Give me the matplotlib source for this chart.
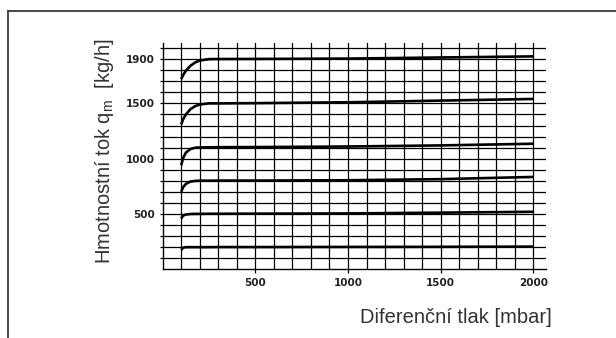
import matplotlib
matplotlib.use('Agg')
import matplotlib.pyplot as plt
from matplotlib.lines import Line2D

# ---- data ----
pressure = [100, 110, 125, 150, 175, 200, 250, 300, 500, 1000, 1500, 2000]
flow_a = [1720, 1755, 1795, 1840, 1870, 1888, 1900, 1901, 1902, 1905, 1915, 1925]
flow_b = [1310, 1355, 1400, 1448, 1475, 1490, 1500, 1500, 1502, 1510, 1525, 1540]
flow_c = [940, 1005, 1055, 1088, 1099, 1102, 1103, 1104, 1105, 1110, 1120, 1135]
flow_d = [700, 742, 772, 793, 799, 801, 801, 802, 802, 805, 815, 835]
flow_e = [460, 485, 495, 500, 501, 501, 502, 502, 503, 505, 512, 520]
flow_f = [175, 195, 200, 200, 200, 200, 200, 201, 201, 202, 203, 205]
series = [flow_a, flow_b, flow_c, flow_d, flow_e, flow_f]

x_major = [500, 1000, 1500, 2000]
x_minor = list(range(100, 2001, 100))
y_major = [500, 1000, 1500, 1900]
y_minor = list(range(100, 2001, 100))

x_title = 'Diferenční tlak [mbar]'
y_title = r'Hmotnostní tok q$\mathregular{_m}$  [kg/h]'

title_family = ['Liberation Sans', 'DejaVu Sans']

fig = plt.figure(figsize=(6.16, 3.38), dpi=100)
ax = fig.add_axes([0.2641, 0.2033, 0.6222, 0.6695])
ax.set_xlim(0, 2068)
ax.set_ylim(0, 2046)

ax.set_xticks(x_major)
ax.set_xticks(x_minor, minor=True)
ax.set_yticks(y_major)
ax.set_yticks(y_minor, minor=True)
ax.grid(True, which='both', color='black', linewidth=0.9)
ax.set_axisbelow(True)

for s in ['top', 'right']:
    ax.spines[s].set_visible(False)
for s in ['left', 'bottom']:
    ax.spines[s].set_color('black')
    ax.spines[s].set_linewidth(1.0)

ax.tick_params(axis='x', which='major', direction='out', length=3.0, width=0.9,
               pad=3.6, labelsize=7.5)
ax.tick_params(axis='x', which='minor', length=0)
ax.tick_params(axis='y', which='both', direction='out', length=2.5, width=0.9,
               pad=3.0, labelsize=7.5)
for lab in ax.get_xticklabels() + ax.get_yticklabels():
    lab.set_fontweight('semibold')
    lab.set_color('#222222')

for ys in series:
    ax.plot(pressure, ys, color='black', linewidth=1.9, solid_capstyle='butt')

fig.text(552 / 616, 15 / 338, x_title, ha='right', va='baseline',
         fontsize=14.5, family=title_family, color='#333333')
fig.text(105 / 616, 1 - 151.5 / 338, y_title, ha='center', va='center', rotation=90,
         fontsize=14.5, family=title_family, color='#333333')

# outer frame
fig.add_artist(Line2D([7.5 / 616, 1.0], [1 - 10.5 / 338, 1 - 10.5 / 338],
                      transform=fig.transFigure, color='#3a3a3a', linewidth=1.3))
fig.add_artist(Line2D([7.5 / 616, 7.5 / 616], [1 - 10.5 / 338, 0.0],
                      transform=fig.transFigure, color='#3a3a3a', linewidth=1.3))

fig.savefig('out.png', dpi=100)
